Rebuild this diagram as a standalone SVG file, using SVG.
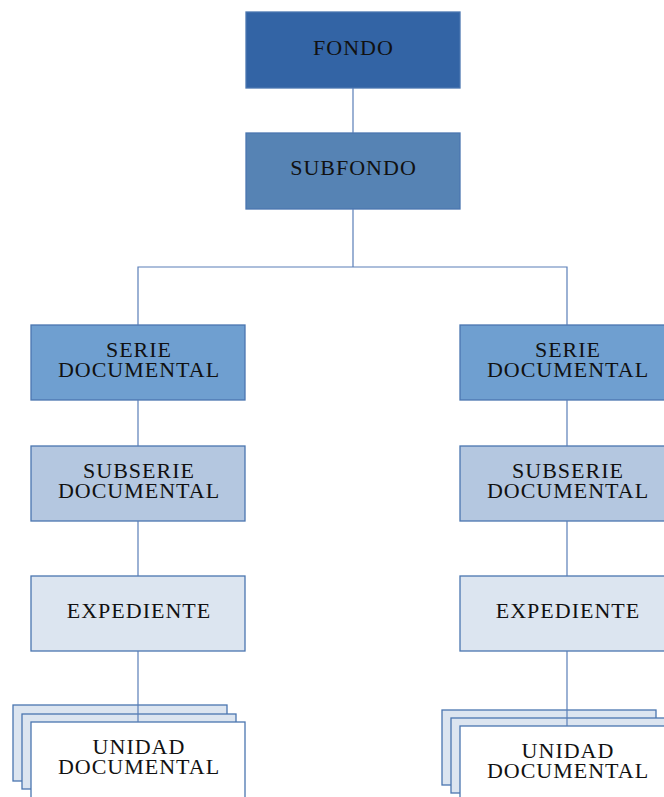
<svg xmlns="http://www.w3.org/2000/svg" width="664" height="797" viewBox="0 0 664 797">
<style>
rect{stroke:#4a76b0;stroke-width:1.3}
text{font-family:"Liberation Serif","Times New Roman",serif;font-size:22px;fill:#111;text-anchor:middle;letter-spacing:1px}
.c{fill:none;stroke:#5a7fb8;stroke-width:1.2}
.f0{fill:#3364a5}.f1{fill:#5683b4}.f2{fill:#6f9fd0}.f3{fill:#b4c7e0}.f4{fill:#dce5f0}.f5{fill:#ffffff}
</style>
<rect width="664" height="797" fill="#fff" style="stroke:none"/>
<g id="fondo"><rect class="f0" x="246" y="12" width="214" height="76"/><text x="353.5" y="55">FONDO</text></g>
<g id="subfondo"><rect class="f1" x="246" y="133" width="214" height="76"/><text x="353.5" y="175">SUBFONDO</text></g>
<g id="serie-l"><rect class="f2" x="31" y="325" width="214" height="75"/><text x="139" y="357">SERIE</text><text x="139" y="377">DOCUMENTAL</text></g>
<g id="serie-r"><rect class="f2" x="460" y="325" width="214" height="75"/><text x="568" y="357">SERIE</text><text x="568" y="377">DOCUMENTAL</text></g>
<g id="subserie-l"><rect class="f3" x="31" y="446" width="214" height="75"/><text x="139" y="478">SUBSERIE</text><text x="139" y="498">DOCUMENTAL</text></g>
<g id="subserie-r"><rect class="f3" x="460" y="446" width="214" height="75"/><text x="568" y="478">SUBSERIE</text><text x="568" y="498">DOCUMENTAL</text></g>
<g id="expediente-l"><rect class="f4" x="31" y="576" width="214" height="75"/><text x="139" y="618">EXPEDIENTE</text></g>
<g id="expediente-r"><rect class="f4" x="460" y="576" width="214" height="75"/><text x="568" y="618">EXPEDIENTE</text></g>
<g id="unidad-l"><rect class="f4" x="13" y="705" width="214" height="76"/><rect class="f4" x="22" y="714" width="214" height="75"/><rect class="f5" x="31" y="722" width="214" height="90"/><text x="139" y="754">UNIDAD</text><text x="139" y="774">DOCUMENTAL</text></g>
<g id="unidad-r"><rect class="f4" x="442" y="710" width="214" height="75"/><rect class="f4" x="451" y="718" width="214" height="75"/><rect class="f5" x="460" y="726" width="214" height="90"/><text x="568" y="758">UNIDAD</text><text x="568" y="778">DOCUMENTAL</text></g>
<g id="connectors">
<path class="c" d="M353 88V133M353 209V267M138 325V267H567V325"/>
<path class="c" d="M138 400V446M138 521V576M138 651V722"/>
<path class="c" d="M567 400V446M567 521V576M567 651V726"/>
</g>
</svg>
